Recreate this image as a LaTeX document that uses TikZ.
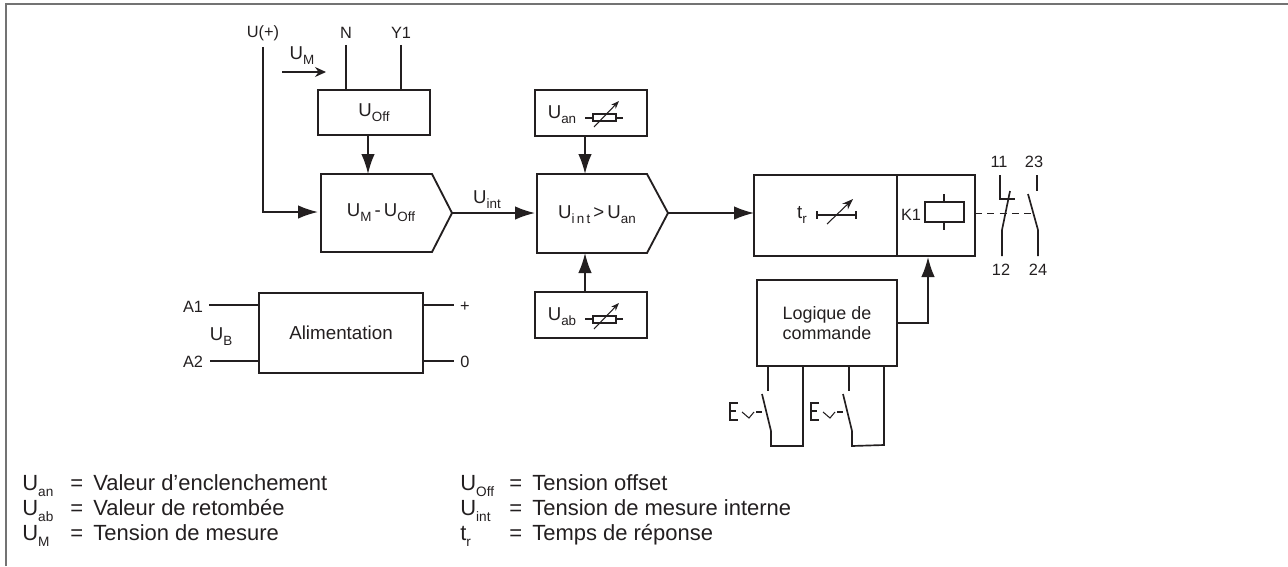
\documentclass[tikz,border=0pt]{standalone}
\usepackage{fontspec}
\setmainfont{Liberation Sans}
\usetikzlibrary{arrows.meta}
\definecolor{ink}{RGB}{35,31,32}
\newcommand{\lowidx}[1]{\raisebox{-.5ex}{\fontsize{.72em}{1em}\selectfont #1}}
\newcommand{\legidx}[1]{\raisebox{-.55ex}{\fontsize{.62em}{1em}\selectfont #1}}
\tikzset{
	wire/.style={ink,line width=.95pt},
	flow/.style={wire,-{Latex[length=.4cm,width=.27cm]}},
	thinwire/.style={ink,line width=.6pt},
	blockbox/.style={draw=ink,line width=1.05pt,inner sep=0pt,outer sep=0pt,font=\fontsize{10.2}{11.5}\selectfont,text=ink,align=center},
	pinlabel/.style={text=ink,font=\fontsize{9.3}{11}\selectfont},
	blocktext/.style={text=ink,font=\fontsize{10.6}{11.5}\selectfont},
	legendtext/.style={text=ink,anchor=base west,inner sep=0pt,font=\fontsize{12.5}{14}\selectfont}
}
\begin{document}
\begin{tikzpicture}[x=.02cm,y=-.02cm]
	\useasboundingbox (0,0) rectangle (1288,566);
	\draw[black!55,line width=1.1pt] (6,566) -- (6,4) -- (1288,4);

	\node[pinlabel] (uplus) at (263,33) {U(+)};
	\node[pinlabel] (n) at (346,33) {N};
	\node[pinlabel] (yone) at (401,33) {Y1};
	\node[blocktext] (um) at (302,56) {U\lowidx{M}};
	\coordinate (umstart) at (282,72);
	\coordinate (umend) at (326,72);
	\draw[thinwire,-{Stealth[length=.22cm,width=.2cm]}] (umstart) -- (umend);

	\node[blockbox,minimum width=2.24cm,minimum height=.9cm] (uoff) at (374,112.5) {\fontsize{10.6}{11.5}\selectfont U\lowidx{Off}};
	\draw[wire] (n.south) -- (n.south |- uoff.north);
	\draw[wire] (yone.south) -- (yone.south |- uoff.north);

	\draw[ink,line width=1.05pt] (321,174) -- (432,174) -- (452,213) -- (432,252) -- (321,252) -- cycle;
	\node[blocktext] (diff) at (381,213) {U\lowidx{M}\,-\,U\lowidx{Off}};
	\coordinate (diffn) at (368,174);
	\coordinate (diffw) at (318,212);
	\coordinate (diffe) at (452,213);
	\draw[flow] (uoff.south -| diffn) -- (diffn);
	\draw[flow] (uplus.south) |- (diffw);

	\node[blocktext] (uint) at (487,200) {U\lowidx{int}};

	\draw[ink,line width=1.05pt] (537,174) -- (647,174) -- (668,213) -- (647,253) -- (537,253) -- cycle;
	\node[blocktext] (cmp) at (597,215) {U\lowidx{i\,n\,t}\,>\,U\lowidx{an}};
	\coordinate (cmpn) at (585,174);
	\coordinate (cmps) at (585,253);
	\coordinate (cmpw) at (535,213);
	\coordinate (cmpe) at (668,213);
	\draw[flow] (diffe) -- (cmpw);

	\node[blockbox,minimum width=2.24cm,minimum height=.92cm] (uan) at (591,113) {};
	\node[blocktext] (uantext) at (562,115) {U\lowidx{an}};
	\draw[thinwire] (593,114) rectangle (616,121);
	\draw[thinwire] (585,118) -- (593,118);
	\draw[thinwire] (616,118) -- (623,118);
	\draw[thinwire,-{Stealth[length=.16cm,width=.12cm]}] (594,127) -- (619,101);
	\draw[flow] (uan.south -| cmpn) -- (cmpn);

	\node[blockbox,minimum width=2.24cm,minimum height=.92cm] (uab) at (591,315) {};
	\node[blocktext] (uabtext) at (562,317) {U\lowidx{ab}};
	\draw[thinwire] (593,316) rectangle (616,323);
	\draw[thinwire] (585,319) -- (593,319);
	\draw[thinwire] (616,319) -- (623,319);
	\draw[thinwire,-{Stealth[length=.16cm,width=.12cm]}] (594,329) -- (619,303);
	\draw[flow] (uab.north -| cmps) -- (cmps);

	\node[blockbox,minimum width=2.86cm,minimum height=1.62cm] (timer) at (825.5,215.5) {};
	\node[blockbox,minimum width=1.56cm,minimum height=1.62cm] (relay) at (936,215.5) {};
	\draw[flow] (cmpe) -- (timer.west |- cmpe);

	\node[blocktext] (tr) at (802,215) {t\lowidx{r}};
	\draw[thinwire] (817,215) -- (856,215);
	\draw[thinwire] (817,211) -- (817,219);
	\draw[thinwire] (856,211) -- (856,219);
	\draw[thinwire,-{Stealth[length=.22cm,width=.16cm]}] (827,224) -- (853,199);

	\node[pinlabel] (kone) at (911,215) {K1};
	\draw[ink,line width=1.05pt] (925,202) rectangle (964,222);
	\draw[thinwire] (944,194) -- (944,202);
	\draw[thinwire] (944,222) -- (944,230);

	\coordinate (linkend) at (1035,213);
	\draw[ink,line width=.5pt,dash pattern=on 4pt off 3pt] (relay.east |- linkend) -- (linkend);

	\node[pinlabel] (p11) at (999,162) {11};
	\node[pinlabel] (p12) at (1001,270) {12};
	\node[pinlabel] (p23) at (1034,162) {23};
	\node[pinlabel] (p24) at (1038,270) {24};
	\draw[wire] (1000,175) -- (1000,199) -- (1015,199);
	\draw[wire] (1010,191) -- (1002,230) -- (1002,256);
	\draw[wire] (1037,175) -- (1037,191);
	\draw[wire] (1028,194) -- (1038,230) -- (1038,256);

	\node[blockbox,minimum width=2.8cm,minimum height=1.72cm] (logic) at (827,323) {Logique de\\commande};
	\coordinate (relayin) at (928,257);
	\draw[flow] (logic.east) -| (relayin);

	\draw[wire] (768,366) -- (768,391);
	\draw[wire] (762,394) -- (771,431) -- (771,446) -- (803,446) -- (803,366);
	\draw[thinwire] (738,403) -- (730,403) -- (730,420) -- (738,420);
	\draw[thinwire] (730,411) -- (736,411);
	\draw[thinwire] (742,412) -- (749,418) -- (754,412);
	\draw[thinwire] (756,412) -- (762,412);

	\draw[wire] (849,366) -- (849,391);
	\draw[wire] (843,394) -- (852,431) -- (852,446) -- (884,445) -- (884,366);
	\draw[thinwire] (819,403) -- (811,403) -- (811,420) -- (819,420);
	\draw[thinwire] (811,411) -- (817,411);
	\draw[thinwire] (823,412) -- (830,418) -- (835,412);
	\draw[thinwire] (837,412) -- (843,412);

	\node[blockbox,minimum width=3.28cm,minimum height=1.6cm] (alim) at (341,333) {\fontsize{10.7}{12}\selectfont Alimentation};
	\node[pinlabel] (aone) at (193,307) {A1};
	\node[pinlabel] (atwo) at (193,362) {A2};
	\node[blocktext] (ub) at (221,337) {U\lowidx{B}};
	\node[pinlabel] (plus) at (465,307) {+};
	\node[pinlabel] (zero) at (465,362) {0};
	\coordinate (aonein) at (209,305);
	\coordinate (atwoin) at (210,361);
	\coordinate (plusout) at (454,305);
	\coordinate (zeroout) at (454,361);
	\draw[wire] (aonein) -- (aonein -| alim.west);
	\draw[wire] (atwoin) -- (atwoin -| alim.west);
	\draw[wire] (alim.east |- plusout) -- (plusout);
	\draw[wire] (alim.east |- zeroout) -- (zeroout);

	\node[legendtext] (lan) at (22,490) {U\legidx{an}};
	\node[legendtext] (lab) at (22,515) {U\legidx{ab}};
	\node[legendtext] (lm) at (22,540) {U\legidx{M}};
	\node[legendtext] (lane) at (70,490) {=};
	\node[legendtext] (labe) at (70,515) {=};
	\node[legendtext] (lme) at (70,540) {=};
	\node[legendtext] (lanv) at (93,490) {Valeur d’enclenchement};
	\node[legendtext] (labv) at (93,515) {Valeur de retombée};
	\node[legendtext] (lmv) at (93,540) {Tension de mesure};

	\node[legendtext] (loff) at (460,490) {U\legidx{Off}};
	\node[legendtext] (lint) at (460,515) {U\legidx{int}};
	\node[legendtext] (ltr) at (460,540) {t\legidx{r}};
	\node[legendtext] (loffe) at (509,490) {=};
	\node[legendtext] (linte) at (509,515) {=};
	\node[legendtext] (ltre) at (509,540) {=};
	\node[legendtext] (loffv) at (532,490) {Tension offset};
	\node[legendtext] (lintv) at (532,515) {Tension de mesure interne};
	\node[legendtext] (ltrv) at (532,540) {Temps de réponse};
\end{tikzpicture}
\end{document}
